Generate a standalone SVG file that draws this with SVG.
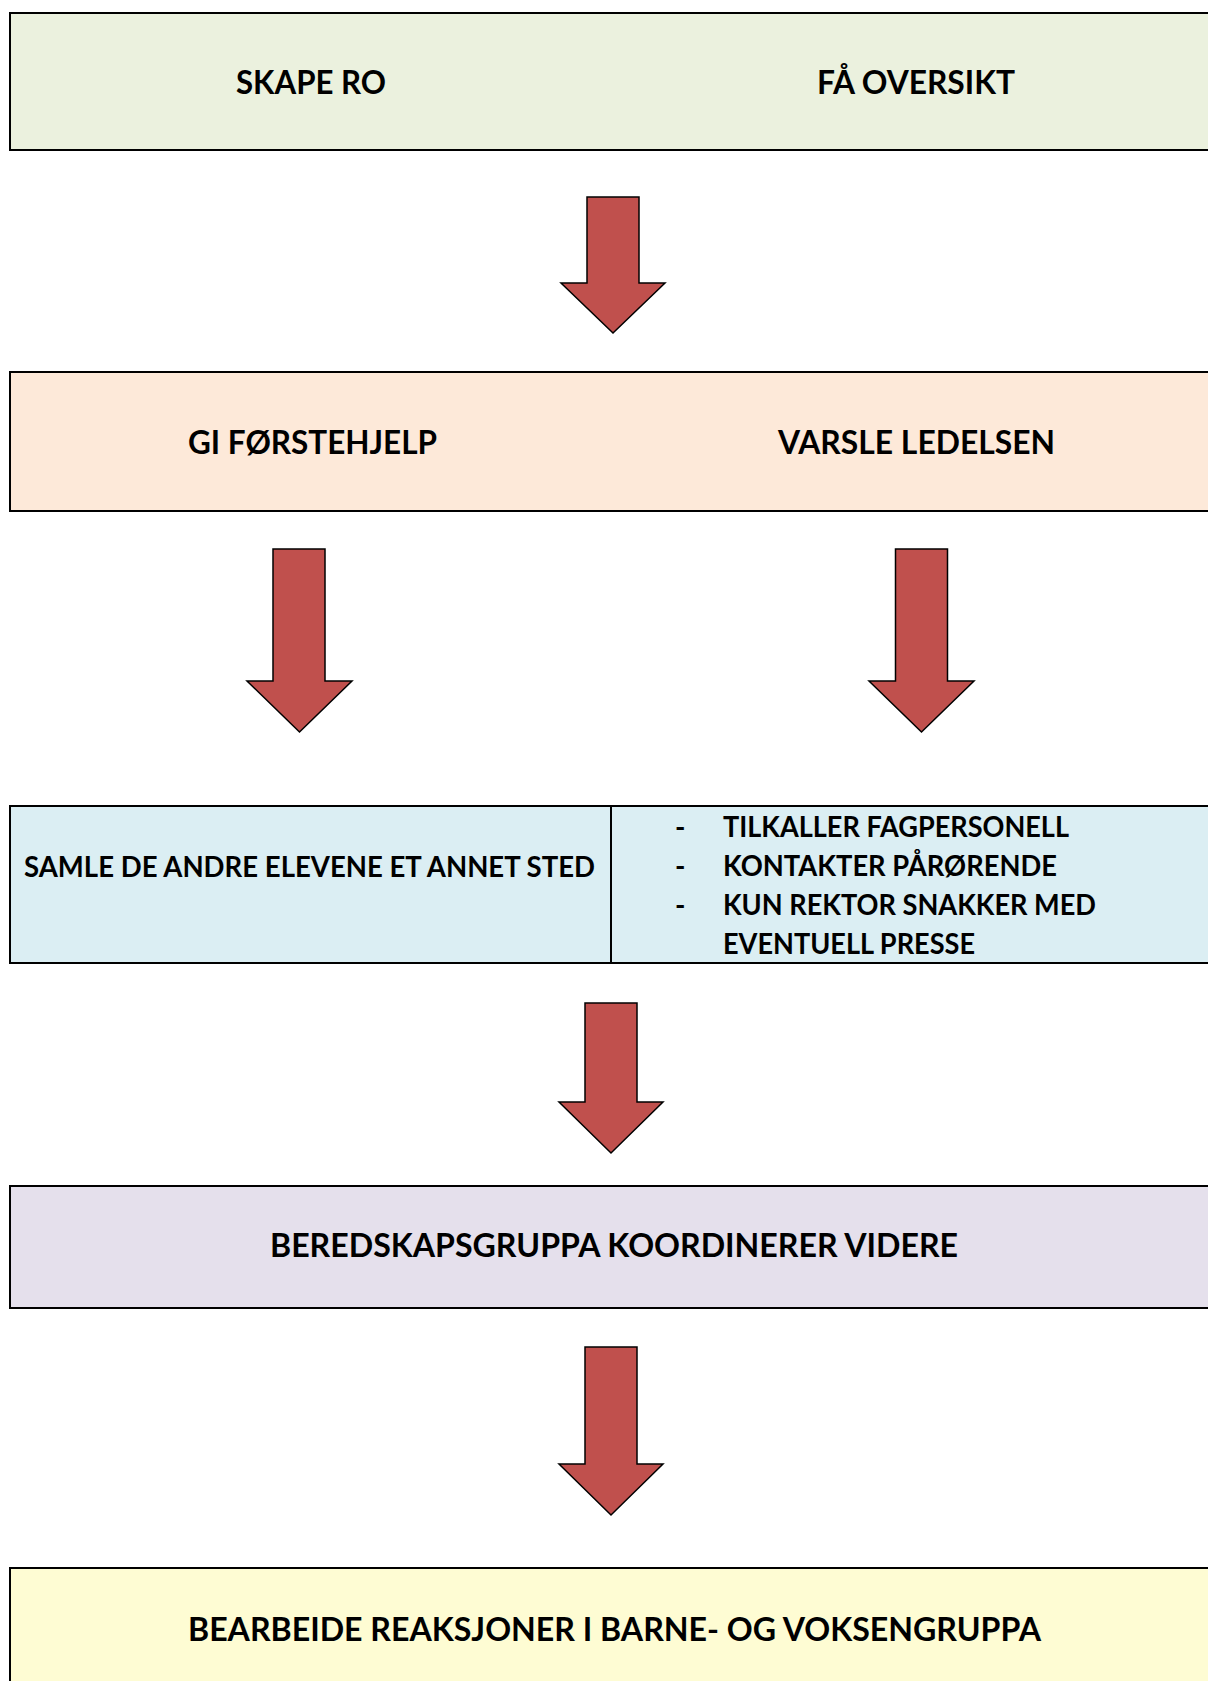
<svg xmlns="http://www.w3.org/2000/svg" width="1208" height="1681" viewBox="0 0 1208 1681">
<style>
.box{stroke:#000;stroke-width:2}
.t{font-family:Lato,"Open Sans","Liberation Sans",sans-serif;font-weight:bold;fill:#000}
.big{font-size:32px}
.sm{font-size:28px}
.arr{fill:#C0504D;stroke:#000;stroke-width:1.5;stroke-linejoin:miter}
</style>
<rect width="1208" height="1681" fill="#fff"/>
<g id="node-1">
<rect class="box" x="10" y="13" width="1220" height="137" fill="#EBF1DE"/>
<text class="t big" x="236" y="94" textLength="150" lengthAdjust="spacingAndGlyphs">SKAPE RO</text>
<text class="t big" x="817" y="94" textLength="198" lengthAdjust="spacingAndGlyphs">FÅ OVERSIKT</text>
</g>
<g id="node-2">
<rect class="box" x="10" y="372" width="1220" height="139" fill="#FDE9D9"/>
<text class="t big" x="188" y="454" textLength="249" lengthAdjust="spacingAndGlyphs">GI FØRSTEHJELP</text>
<text class="t big" x="778" y="454" textLength="277" lengthAdjust="spacingAndGlyphs">VARSLE LEDELSEN</text>
</g>
<g id="node-3">
<rect class="box" x="10" y="806" width="1220" height="157" fill="#DBEEF3"/>
<line x1="611" y1="806" x2="611" y2="963" stroke="#000" stroke-width="2"/>
<text class="t sm" x="24" y="877" textLength="571" lengthAdjust="spacingAndGlyphs">SAMLE DE ANDRE ELEVENE ET ANNET STED</text>
<text class="t sm" x="675" y="837">-</text>
<text class="t sm" x="675" y="876">-</text>
<text class="t sm" x="675" y="915">-</text>
<text class="t sm" x="723" y="837" textLength="346" lengthAdjust="spacingAndGlyphs">TILKALLER FAGPERSONELL</text>
<text class="t sm" x="723" y="876" textLength="334" lengthAdjust="spacingAndGlyphs">KONTAKTER PÅRØRENDE</text>
<text class="t sm" x="723" y="915" textLength="373" lengthAdjust="spacingAndGlyphs">KUN REKTOR SNAKKER MED</text>
<text class="t sm" x="723" y="954" textLength="252" lengthAdjust="spacingAndGlyphs">EVENTUELL PRESSE</text>
</g>
<g id="node-4">
<rect class="box" x="10" y="1186" width="1220" height="122" fill="#E5E0EC"/>
<text class="t big" x="270" y="1257" textLength="688" lengthAdjust="spacingAndGlyphs">BEREDSKAPSGRUPPA KOORDINERER VIDERE</text>
</g>
<g id="node-5">
<rect class="box" x="10" y="1568" width="1220" height="140" fill="#FEFCD3"/>
<text class="t big" x="188" y="1641" textLength="853" lengthAdjust="spacingAndGlyphs">BEARBEIDE REAKSJONER I BARNE- OG VOKSENGRUPPA</text>
</g>
<g id="connectors">
<polygon class="arr" points="587,197 639,197 639,283 665,283 613,333 561,283 587,283"/>
<polygon class="arr" points="273,549 325,549 325,681 352,681 299.5,732 247,681 273,681"/>
<polygon class="arr" points="895.5,549 947.5,549 947.5,681 974,681 921.5,732 869,681 895.5,681"/>
<polygon class="arr" points="585,1003 637,1003 637,1102 663,1102 611,1153 559,1102 585,1102"/>
<polygon class="arr" points="585,1347 637,1347 637,1464 663,1464 611,1515 559,1464 585,1464"/>
</g>
</svg>
